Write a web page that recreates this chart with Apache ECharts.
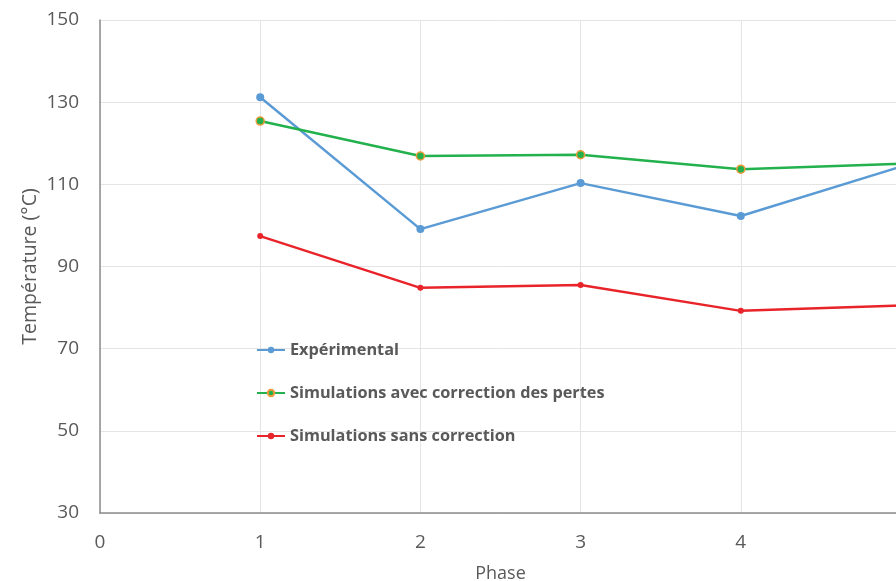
<!DOCTYPE html>
<html>
<head>
<meta charset="utf-8">
<script src="https://cdn.jsdelivr.net/npm/echarts@6/dist/echarts.min.js"></script>
<style>
  html, body { margin: 0; padding: 0; background: #fff; overflow: hidden; width: 896px; height: 581px; }
  #chart { width: 930px; height: 581px; }
</style>
</head>
<body>
<div id="chart"></div>
<script>
// Phases on the horizontal axis
const phases = [1, 2, 3, 4, 5];
// Temperatures (°C) per phase
const experimental = [131.2, 99.1, 110.3, 102.3, 114.3];
const simAvecCorrection = [125.4, 116.9, 117.2, 113.7, 115.0];
const simSansCorrection = [97.4, 84.8, 85.5, 79.2, 80.5];
const seriesNames = ['Expérimental', 'Simulations avec correction des pertes', 'Simulations sans correction'];

const pairs = vals => phases.map((p, i) => [p, vals[i]]);
const font = '"Open Sans", "Liberation Sans", sans-serif';
const grey = '#595959';

const chart = echarts.init(document.getElementById('chart'), null, { renderer: 'canvas', width: 930, height: 581 });
chart.setOption({
  animation: false,
  backgroundColor: '#ffffff',
  grid: { left: 100, right: 29, top: 20, bottom: 68, containLabel: false, outerBoundsMode: 'none' },
  legend: {
    orient: 'vertical',
    left: 251,
    top: 337,
    itemWidth: 28,
    itemHeight: 8,
    itemGap: 27,
    textStyle: { color: grey, fontFamily: font, fontSize: 16.3, fontWeight: 'bold' },
    data: seriesNames
  },
  xAxis: {
    type: 'value', min: 0, max: 5, interval: 1,
    name: 'Phase', nameLocation: 'middle', nameGap: 52, nameMoveOverlap: false,
    nameTextStyle: { color: grey, fontFamily: font, fontSize: 18 },
    axisLine: { show: true, lineStyle: { color: '#8c8c8c', width: 1.5 } },
    axisTick: { show: false },
    axisLabel: { color: grey, fontFamily: font, fontSize: 19, margin: 20 },
    splitLine: { show: true, lineStyle: { color: '#e4e4e4', width: 1 } }
  },
  yAxis: {
    type: 'value', min: 30, max: 150, interval: 20,
    name: 'Température (°C)', nameLocation: 'middle', nameGap: 60, nameMoveOverlap: false,
    nameTextStyle: { color: grey, fontFamily: font, fontSize: 19.5 },
    axisLine: { show: true, lineStyle: { color: '#8c8c8c', width: 1.5 } },
    axisTick: { show: false },
    axisLabel: { color: grey, fontFamily: font, fontSize: 19, margin: 21 },
    splitLine: { show: true, lineStyle: { color: '#e4e4e4', width: 1 } }
  },
  series: [
    {
      name: seriesNames[0], type: 'line', data: pairs(experimental),
      symbol: 'circle', symbolSize: 8,
      lineStyle: { color: '#5b9bd5', width: 2.5 },
      itemStyle: { color: '#5b9bd5' }
    },
    {
      name: seriesNames[1], type: 'line', data: pairs(simAvecCorrection),
      symbol: 'circle', symbolSize: 8,
      lineStyle: { color: '#22b14c', width: 2.5 },
      itemStyle: { color: '#22b14c', borderColor: '#ed9a3a', borderWidth: 1.5 }
    },
    {
      name: seriesNames[2], type: 'line', data: pairs(simSansCorrection),
      symbol: 'circle', symbolSize: 6,
      lineStyle: { color: '#e8242a', width: 2.5 },
      itemStyle: { color: '#e8242a' }
    }
  ]
});
</script>
</body>
</html>
